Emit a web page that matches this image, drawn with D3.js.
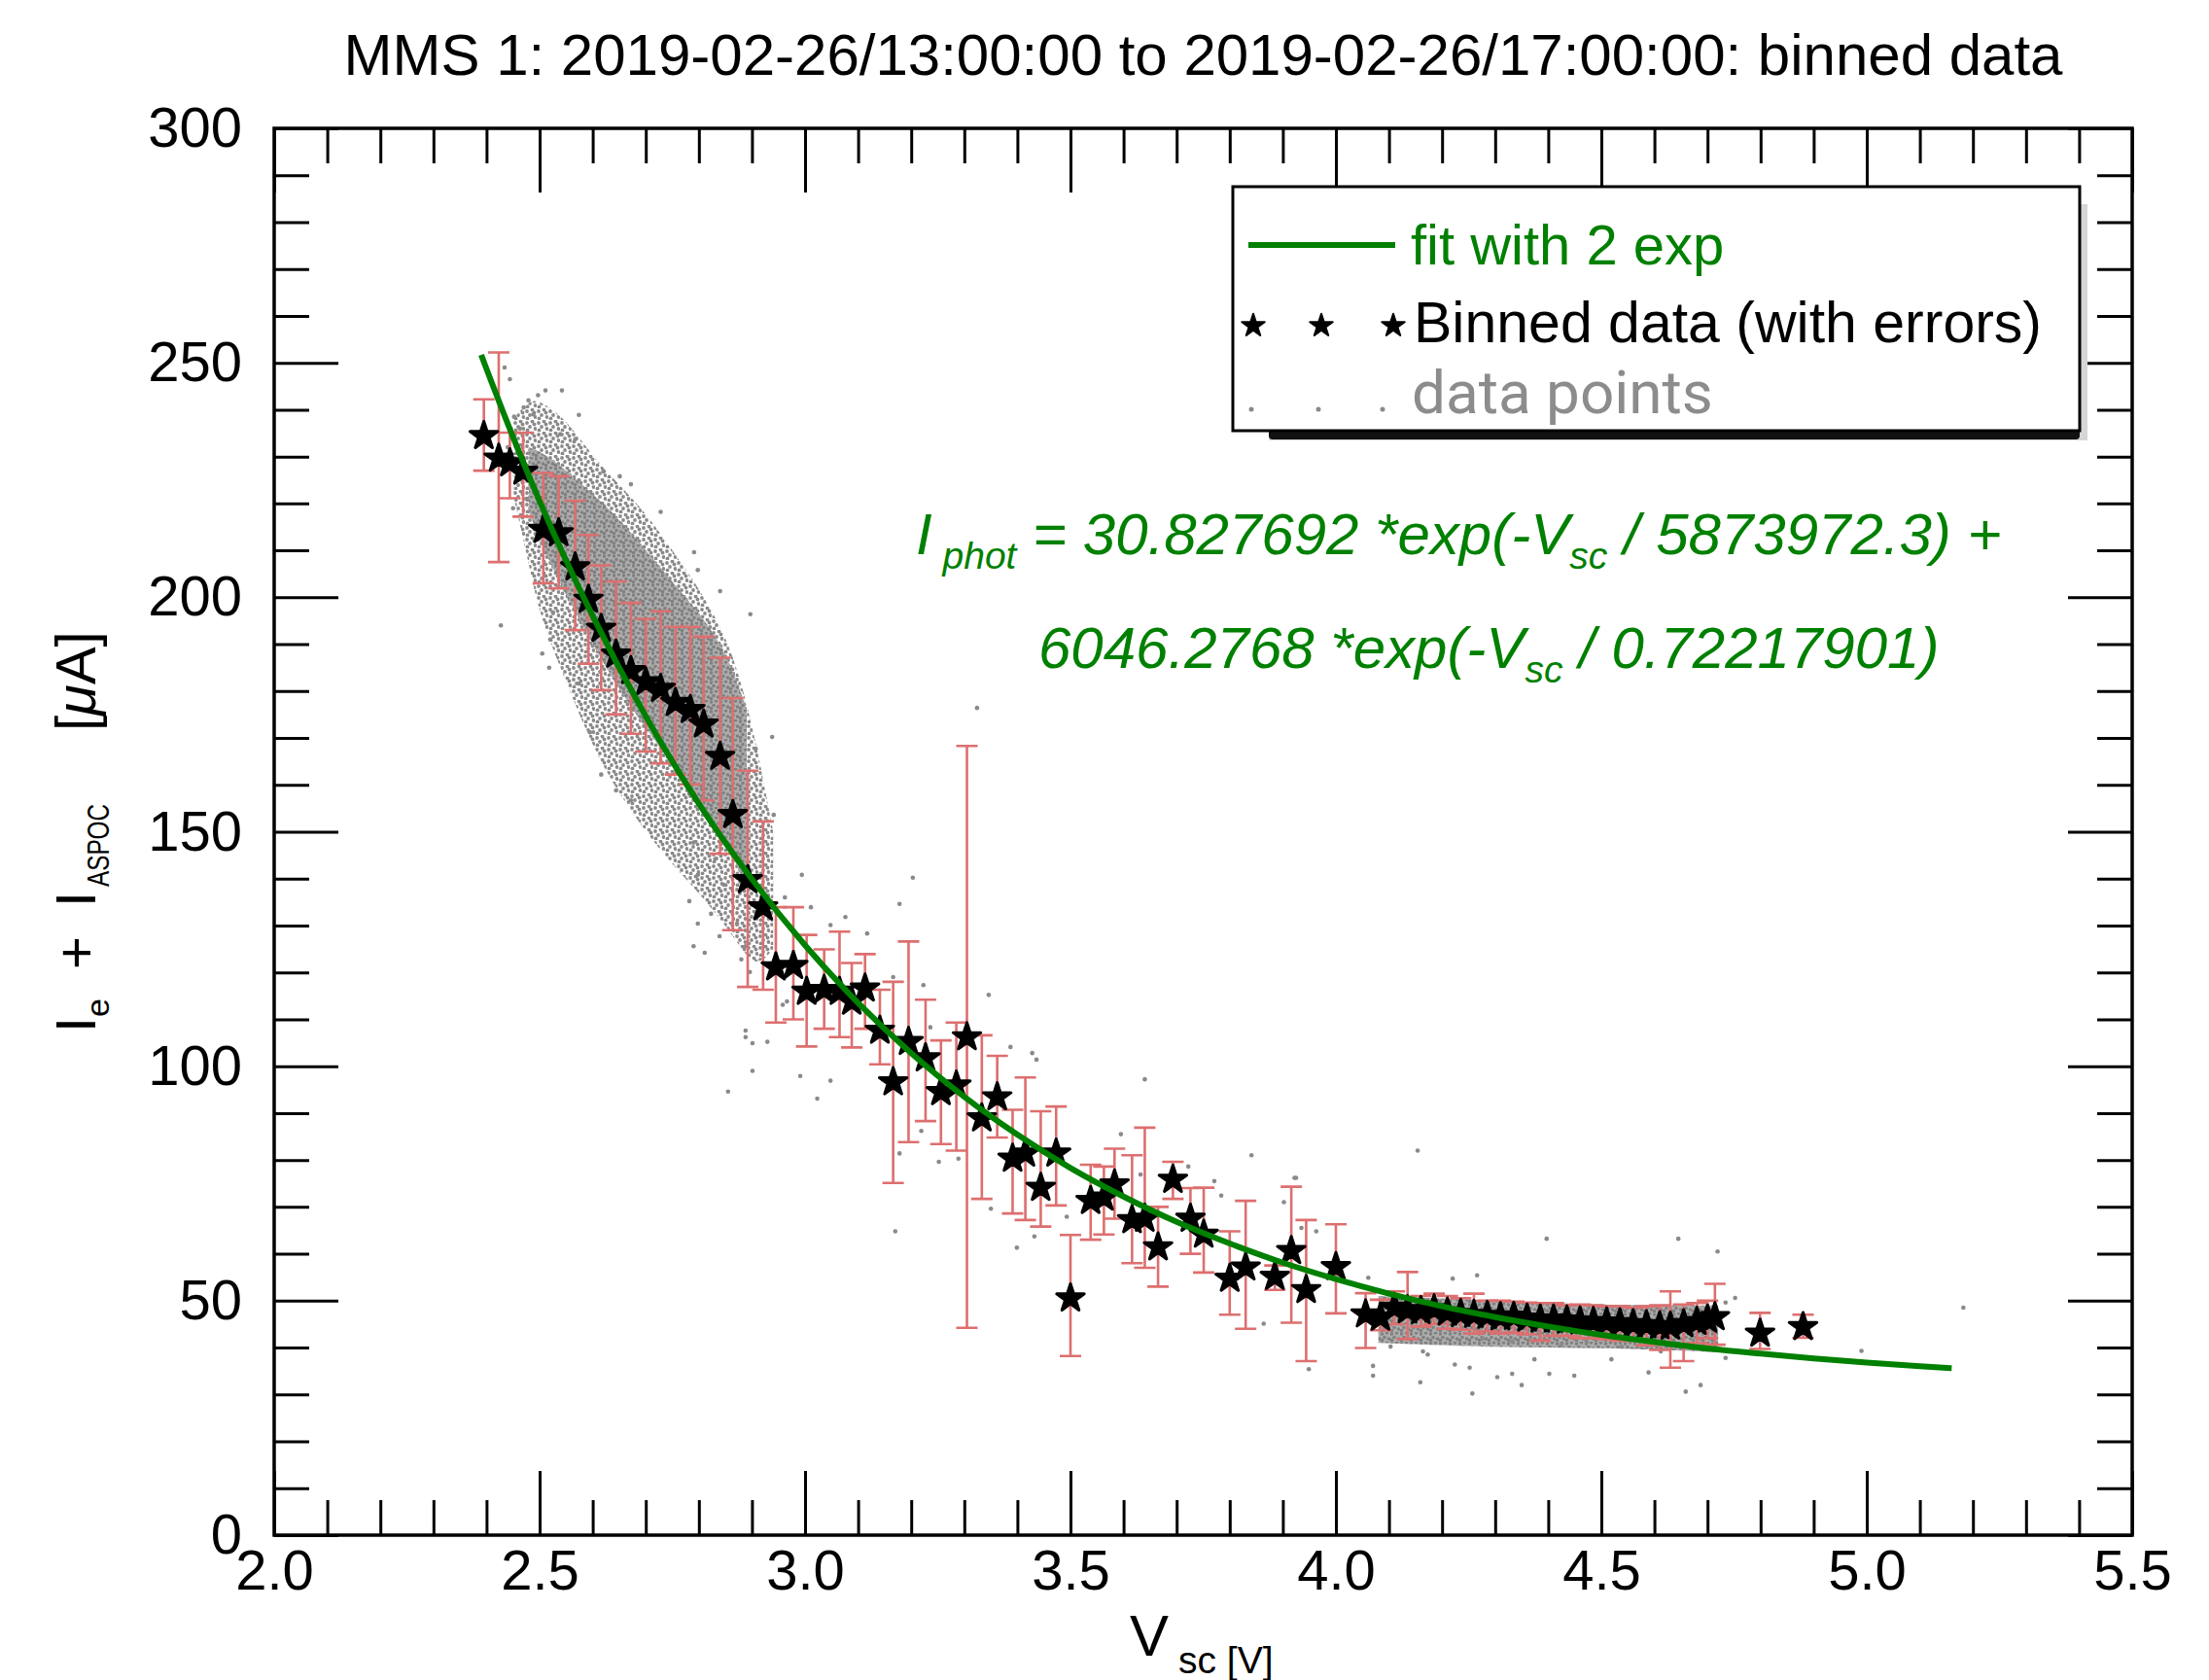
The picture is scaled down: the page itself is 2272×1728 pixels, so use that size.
<!DOCTYPE html>
<html lang="en">
<head>
<meta charset="UTF-8">
<title>MMS 1 binned data</title>
<script src="https://cdnjs.cloudflare.com/ajax/libs/d3/7.8.5/d3.min.js"></script>
<style>
  body { margin: 0; background: #fff; }
  svg { display: block; font-family: "Liberation Sans", Arial, Helvetica, sans-serif; }
  text { white-space: pre; }
</style>
</head>
<body>
<div id="chart"></div>
<script>
// binned data (stars) with error bars
const binV  = [2.395, 2.423, 2.444, 2.469, 2.507, 2.536, 2.567, 2.592, 2.616, 2.644, 2.672, 2.700, 2.728, 2.756, 2.784, 2.809, 2.840, 2.864, 2.892, 2.921,
               2.945, 2.978, 3.003, 3.036, 3.065, 3.088, 3.113, 3.141, 3.166, 3.195, 3.227, 3.256, 3.285, 3.305, 3.333, 3.362, 3.391, 3.415, 3.444, 3.473,
               3.500, 3.538, 3.563, 3.583, 3.616, 3.640, 3.665, 3.693, 3.726, 3.751, 3.800, 3.830, 3.885, 3.916, 3.944, 4.000, 4.056, 4.084,
               4.110, 4.135, 4.160, 4.185, 4.210, 4.235, 4.260, 4.285, 4.310, 4.335, 4.360, 4.385, 4.410, 4.435, 4.460, 4.485, 4.510, 4.535,
               4.560, 4.585, 4.610, 4.630, 4.655, 4.680, 4.700, 4.714, 4.799, 4.880];
const binI  = [234.4, 229.6, 228.6, 226.8, 214.4, 213.7, 206.4, 199.5, 193.3, 187.8, 184.3, 181.9, 180.5, 177.5, 176.0, 172.9, 166.0, 153.6, 139.7, 133.9,
               121.1, 121.4, 115.9, 116.3, 115.9, 113.8, 116.6, 107.6, 96.6, 105.2, 101.7, 94.5, 95.9, 106.2, 88.9, 93.4, 80.3, 81.4, 74.1, 81.4,
               50.5, 71.3, 72.0, 74.8, 67.2, 67.5, 61.4, 75.8, 67.5, 64.1, 54.7, 57.1, 55.1, 60.6, 52.3, 57.2, 47.1, 46.4,
               48.5, 48.0, 47.8, 48.2, 47.5, 47.2, 47.0, 46.8, 46.5, 46.6, 46.2, 46.0, 46.0, 45.8, 45.6, 45.5, 45.4, 45.2,
               45.0, 44.8, 44.6, 44.5, 45.0, 45.5, 46.0, 46.5, 43.0, 44.4];
const binLo = [227.0, 207.5, 221.1, 217.2, 203.0, 201.9, 193.0, 185.8, 180.2, 175.0, 170.9, 167.1, 164.6, 162.2, 160.1, 156.7, 145.3, 129.0, 116.9, 116.3,
               109.3, 110.0, 104.2, 108.0, 106.2, 104.0, 108.0, 100.4, 75.1, 83.8, 88.3, 83.4, 82.0, 44.2, 71.7, 84.8, 68.6, 67.2, 65.8, 70.3,
               38.2, 63.0, 64.1, 67.5, 58.0, 57.0, 53.0, 71.7, 60.0, 56.0, 47.0, 44.0, 52.3, 45.3, 37.1, 47.3, 39.9, 43.7,
               45.0, 41.8, 44.5, 45.0, 44.0, 43.8, 43.0, 43.5, 43.0, 43.2, 42.8, 41.5, 42.5, 42.5, 42.0, 42.0, 41.8, 41.5,
               41.5, 40.5, 39.5, 35.7, 37.1, 41.0, 42.0, 40.6, 39.7, 42.1];
const binHi = [242.2, 252.2, 235.1, 235.1, 226.5, 225.8, 220.6, 213.3, 206.8, 203.4, 198.8, 195.4, 197.0, 193.7, 193.7, 191.6, 187.1, 178.5, 163.0, 152.2,
               133.9, 133.9, 128.0, 124.9, 128.7, 122.0, 123.9, 116.3, 118.0, 126.6, 114.2, 105.5, 109.3, 168.3, 106.6, 102.2, 90.7, 97.6, 90.4, 91.4,
               64.0, 79.0, 78.6, 82.4, 81.0, 86.9, 70.0, 79.6, 74.0, 74.1, 64.8, 71.3, 57.5, 74.3, 67.2, 66.3, 51.6, 50.2,
               52.0, 56.1, 51.0, 51.5, 51.0, 50.5, 51.5, 50.0, 50.0, 49.8, 49.6, 49.5, 49.5, 49.0, 49.2, 49.0, 48.8, 48.8,
               48.5, 48.8, 49.0, 52.0, 49.2, 49.5, 50.0, 53.6, 47.4, 47.0];

// fit with 2 exp
const fitV = [2.39, 2.40, 2.50, 2.60, 2.70, 2.80, 2.90, 3.00, 3.10, 3.20, 3.30, 3.40, 3.50, 3.60, 3.70, 3.80, 3.90, 4.00, 4.10, 4.20,
              4.30, 4.40, 4.50, 4.60, 4.70, 4.80, 4.90, 5.00, 5.10, 5.16];
const fitI = [251.7, 248.7, 220.5, 196.0, 174.6, 156.0, 139.9, 125.8, 113.5, 102.8, 93.5, 85.4, 78.3, 72.2, 66.8, 62.2, 58.1, 54.6, 51.5, 48.8,
              46.5, 44.5, 42.7, 41.2, 39.8, 38.7, 37.7, 36.8, 36.0, 35.6];

// outer edge of the dense cloud of data points
const cloudV  = [2.45, 2.48, 2.50, 2.55, 2.60, 2.65, 2.70, 2.75, 2.80, 2.85, 2.88, 2.91, 2.94];
const cloudLo = [222, 207, 196, 182, 168, 158, 150, 143, 137, 130, 125, 121, 125];
const cloudHi = [238, 242, 242, 238, 230, 224, 218, 210, 202, 192, 182, 168, 150];
// darkest part of the cloud
const coreV  = [2.48, 2.52, 2.58, 2.64, 2.70, 2.76, 2.82, 2.86, 2.89];
const coreLo = [218, 207, 194, 182, 172, 163, 154, 146, 138];
const coreHi = [232, 230, 224, 218, 210, 202, 194, 186, 176];
// cloud at high potential
const tailV  = [4.08, 4.30, 4.50, 4.72];
const tailLo = [41, 40, 40, 39];
const tailHi = [51, 50, 49, 49];

// single scattered data points
const ptV = [2.994, 3.203, 3.178, 3.076, 3.011, 3.048, 3.117, 3.223, 3.166, 3.346, 3.236, 3.387, 3.428, 3.436, 3.640, 2.888, 2.929, 2.901, 2.991, 3.048,
             2.855, 3.023, 3.219, 3.178, 3.252, 3.289, 3.350, 3.399, 3.432, 3.493, 3.170, 3.595, 3.841, 3.771, 3.922, 3.722, 3.632, 3.784, 3.902,
             2.782, 2.815, 2.790, 2.831, 2.798, 2.847, 2.782, 2.823, 2.798, 2.839, 2.880, 2.896, 2.790, 2.811, 2.872, 2.888, 2.941, 2.962, 2.958, 2.966,
             2.888, 2.901,
             4.154, 3.925, 4.397, 4.645, 4.719, 3.935, 3.963, 5.182, 4.990, 4.061, 4.220, 4.266, 4.070, 4.070, 4.164, 4.173, 4.159, 4.224, 4.252, 4.257,
             4.304, 4.332, 4.350, 4.374, 4.402, 4.449, 4.519, 4.538, 4.589, 4.659, 4.687, 4.734, 4.103, 4.276, 4.332, 4.425, 4.472, 4.612, 4.752, 4.734,
             3.864, 3.949,
             2.434, 2.444, 2.511, 2.542, 2.574, 2.497, 2.479, 2.427, 2.938, 3.324, 2.907, 2.897, 2.840, 2.798, 2.791, 2.728, 2.672, 2.651, 2.620, 2.567,
             2.539, 2.518, 2.525, 2.595, 2.574, 2.616, 2.644, 2.672,
             2.452, 2.463, 2.440, 2.470, 2.488, 2.458, 2.476, 2.450, 2.520, 2.505];
const ptI = [140.8, 140.2, 134.6, 131.8, 133.9, 130.1, 128.3, 117.3, 119.0, 115.2, 108.3, 104.1, 102.8, 101.4, 97.2, 106.2, 105.2, 99.0, 97.9, 96.9,
             94.6, 93.1, 86.2, 81.4, 79.6, 80.3, 69.6, 61.3, 63.7, 67.9, 64.8, 85.5, 81.0, 75.5, 76.2, 78.6, 76.9, 72.4, 71.0,
             158.1, 153.2, 147.7, 144.2, 140.8, 138.7, 135.2, 132.5, 130.4, 127.7, 122.8, 120.1, 125.6, 124.2, 130.4, 125.6, 153.6, 136.0, 113.1, 113.8,
             107.6, 104.9,
             82.0, 76.2, 63.2, 63.2, 60.5, 65.5, 64.8, 48.5, 39.3, 54.9, 54.7, 55.4, 36.1, 34.0, 39.2, 38.5, 32.6, 36.4, 35.7, 30.2,
             33.7, 34.4, 32.0, 37.5, 34.4, 34.0, 37.5, 40.2, 34.7, 30.6, 32.0, 37.8, 40.2, 41.9, 41.3, 40.6, 41.3, 39.2, 50.6, 49.6,
             45.1, 35.4,
             249.0, 246.5, 244.1, 244.1, 238.9, 243.1, 242.0, 194.0, 170.2, 176.4, 167.7, 196.4, 201.3, 205.8, 209.6, 218.2, 224.1, 225.8, 226.8, 233.7,
             234.8, 185.0, 196.8, 171.2, 181.6, 162.2, 158.8, 156.7,
             238.5, 236.0, 232.0, 240.5, 239.0, 226.0, 221.0, 219.0, 191.0, 188.0];

const xMajor = [2.0, 2.5, 3.0, 3.5, 4.0, 4.5, 5.0, 5.5];
const yMajor = [0, 50, 100, 150, 200, 250, 300];

const W = 2272, H = 1728;
const green = "#008000", barRed = "#dd6f6f", dotGray = "#8a8a8a";

const svg = d3.select("#chart").append("svg")
    .attr("width", W).attr("height", H);

const defs = svg.append("defs");
// speckle textures for the crowded parts of the cloud
const halo = defs.append("pattern").attr("id", "halo")
    .attr("patternUnits", "userSpaceOnUse").attr("width", 12).attr("height", 12);
[[2, 3], [7.5, 1.5], [5, 7], [10.5, 9], [2.5, 10.5], [9.5, 4.5]].forEach(p =>
    halo.append("circle").attr("cx", p[0]).attr("cy", p[1]).attr("r", 1.9).attr("fill", dotGray));
const core = defs.append("pattern").attr("id", "core")
    .attr("patternUnits", "userSpaceOnUse").attr("width", 10).attr("height", 10);
core.append("rect").attr("width", 10).attr("height", 10).attr("fill", "#adadad");
[[1.5, 2], [6.5, 1], [4, 5.5], [8.5, 7], [1.5, 8.5]].forEach(p =>
    core.append("circle").attr("cx", p[0]).attr("cy", p[1]).attr("r", 1.8).attr("fill", "#808080"));

const x = d3.scaleLinear().domain([2.0, 5.5]).range([282, 2193]);
const y = d3.scaleLinear().domain([0, 300]).range([1579, 132]);

const xMinor = d3.range(2.0, 5.5001, 0.1).filter(v => Math.abs(v * 2 - Math.round(v * 2)) > 1e-6);
const yMinor = d3.range(0, 301, 10).filter(v => v % 50 !== 0);

// data points
const band = d3.area().x(d => x(d.v)).y0(d => y(d.lo)).y1(d => y(d.hi)).curve(d3.curveBasis);
const zipBand = (v, lo, hi) => v.map((d, i) => ({v: d, lo: lo[i], hi: hi[i]}));
const gPts = svg.append("g");
gPts.append("path").datum(zipBand(cloudV, cloudLo, cloudHi)).attr("d", band).attr("fill", "url(#halo)");
gPts.append("path").datum(zipBand(coreV, coreLo, coreHi)).attr("d", band).attr("fill", "url(#core)");
gPts.append("path").datum(zipBand(tailV, tailLo, tailHi)).attr("d", band).attr("fill", "url(#core)");
gPts.selectAll("circle").data(ptV.map((v, i) => [v, ptI[i]])).join("circle")
    .attr("cx", d => x(d[0])).attr("cy", d => y(d[1])).attr("r", 2.3).attr("fill", dotGray);

// error bars
const bins = binV.map((v, i) => ({v: v, i: binI[i], lo: binLo[i], hi: binHi[i]}));
const gErr = svg.append("g").attr("stroke", barRed).attr("stroke-width", 2.6).attr("fill", "none");
gErr.selectAll("path").data(bins).join("path")
    .attr("d", d => {
      const cx = x(d.v), c = 11;
      return `M${cx},${y(d.lo)}V${y(d.hi)}M${cx - c},${y(d.hi)}H${cx + c}M${cx - c},${y(d.lo)}H${cx + c}`;
    });

// stars
const star = d3.symbol(d3.symbolStar, 250);
svg.append("g").selectAll("path").data(bins).join("path")
    .attr("transform", d => `translate(${x(d.v)},${y(d.i)})`)
    .attr("d", star).attr("fill", "#000")
    .attr("stroke", "#000").attr("stroke-width", 3).attr("stroke-linejoin", "round");

// fit line
svg.append("path").datum(fitV.map((v, i) => [v, fitI[i]]))
    .attr("fill", "none").attr("stroke", green).attr("stroke-width", 6)
    .attr("d", d3.line().x(d => x(d[0])).y(d => y(d[1])).curve(d3.curveMonotoneX));

// axes: ticks on all four sides pointing inward
function ticks(axis, vals, size, showLabels) {
  return axis.tickValues(vals).tickSizeInner(-size).tickSizeOuter(0)
      .tickFormat(showLabels ? null : "");
}
const axG = [
  svg.append("g").attr("transform", "translate(0,1579)").call(ticks(d3.axisBottom(x), xMajor, 66, true).tickFormat(d3.format(".1f")).tickPadding(15)),
  svg.append("g").attr("transform", "translate(0,1579)").call(ticks(d3.axisBottom(x), xMinor, 36, false)),
  svg.append("g").attr("transform", "translate(0,132)").call(ticks(d3.axisTop(x), xMajor, 66, false)),
  svg.append("g").attr("transform", "translate(0,132)").call(ticks(d3.axisTop(x), xMinor, 36, false)),
  svg.append("g").attr("transform", "translate(282,0)").call(ticks(d3.axisLeft(y), yMajor, 66, true).tickPadding(33)),
  svg.append("g").attr("transform", "translate(282,0)").call(ticks(d3.axisLeft(y), yMinor, 36, false)),
  svg.append("g").attr("transform", "translate(2193,0)").call(ticks(d3.axisRight(y), yMajor, 66, false)),
  svg.append("g").attr("transform", "translate(2193,0)").call(ticks(d3.axisRight(y), yMinor, 36, false))
];
axG.forEach(g => {
  g.select(".domain").remove();
  g.selectAll(".tick line").attr("stroke", "#000").attr("stroke-width", 3);
  g.selectAll(".tick text").attr("fill", "#000").attr("font-size", 58)
      .attr("font-family", "'Liberation Sans', Arial, sans-serif");
});

svg.append("rect").attr("x", 282).attr("y", 132).attr("width", 2193 - 282).attr("height", 1579 - 132)
    .attr("fill", "none").attr("stroke", "#000").attr("stroke-width", 3.5);

// title
svg.append("text").attr("x", (282 + 2193) / 2).attr("y", 77).attr("text-anchor", "middle")
    .attr("font-size", 60).attr("fill", "#000")
    .text("MMS 1: 2019-02-26/13:00:00 to 2019-02-26/17:00:00: binned data");

// x label
const xl = svg.append("text").attr("x", 1162).attr("y", 1703).attr("font-size", 60).attr("fill", "#000");
xl.append("tspan").text("V");
xl.append("tspan").attr("font-size", 39).attr("dx", 10).attr("dy", 18).text("sc [V]");

// y label (rotated)
const yl = svg.append("text").attr("transform", "translate(98,1062) rotate(-90)")
    .attr("font-size", 58).attr("fill", "#000");
yl.append("tspan").attr("x", 0).text("I");
yl.append("tspan").attr("x", 16).attr("dy", 14).attr("font-size", 34).text("e");
yl.append("tspan").attr("x", 65).attr("dy", -14).text("+");
yl.append("tspan").attr("x", 129).text("I");
yl.append("tspan").attr("x", 150).attr("dy", 14).attr("font-size", 31)
    .attr("textLength", 85).attr("lengthAdjust", "spacingAndGlyphs").text("ASPOC");
yl.append("tspan").attr("x", 310).attr("dy", -14).text("[");
yl.append("tspan").attr("font-style", "italic").text("μ");
yl.append("tspan").text("A]");

// fit equation
function eqLine(px, py, parts) {
  const t = svg.append("text").attr("x", px).attr("y", py).attr("fill", green)
      .attr("font-style", "italic").attr("font-size", 60);
  let sub = false;
  parts.forEach(p => {
    const isSub = p[1];
    t.append("tspan").attr("font-size", isSub ? 39 : 60)
        .attr("dy", isSub === sub ? 0 : (isSub ? 15 : -15)).text(p[0]);
    sub = isSub;
  });
}
eqLine(942, 570, [["I", false], [" phot", true], [" = 30.827692 *exp(-V", false], ["sc", true], [" / 5873972.3) +", false]]);
eqLine(1068, 687, [["6046.2768 *exp(-V", false], ["sc", true], [" / 0.72217901)", false]]);

// legend
const lg = svg.append("g");
lg.append("rect").attr("x", 1305).attr("y", 210).attr("width", 842).attr("height", 243).attr("fill", "#d6d6d6");
lg.append("rect").attr("x", 1305).attr("y", 441).attr("width", 834).attr("height", 11).attr("rx", 4).attr("fill", "#111");
lg.append("rect").attr("x", 1268).attr("y", 192).attr("width", 871).attr("height", 251)
    .attr("fill", "#fff").attr("stroke", "#000").attr("stroke-width", 3);
lg.append("line").attr("x1", 1284).attr("x2", 1435).attr("y1", 252).attr("y2", 252)
    .attr("stroke", green).attr("stroke-width", 6);
lg.append("text").attr("x", 1451).attr("y", 272).attr("font-size", 58).attr("fill", green).text("fit with 2 exp");
[1289, 1359, 1433].forEach(sx => lg.append("path").attr("transform", `translate(${sx},335)`)
    .attr("d", d3.symbol(d3.symbolStar, 170)).attr("fill", "#000")
    .attr("stroke", "#000").attr("stroke-width", 2).attr("stroke-linejoin", "round"));
lg.append("text").attr("x", 1454).attr("y", 352).attr("font-size", 59).attr("fill", "#000").text("Binned data (with errors)");
[1287, 1356, 1422].forEach(sx => lg.append("circle").attr("cx", sx).attr("cy", 421).attr("r", 2.5).attr("fill", dotGray));
lg.append("text").attr("x", 1452).attr("y", 425).attr("font-size", 62).attr("font-family", "Roboto, 'Open Sans', sans-serif")
    .attr("fill", "#8c8c8c").text("data points");
</script>
</body>
</html>
